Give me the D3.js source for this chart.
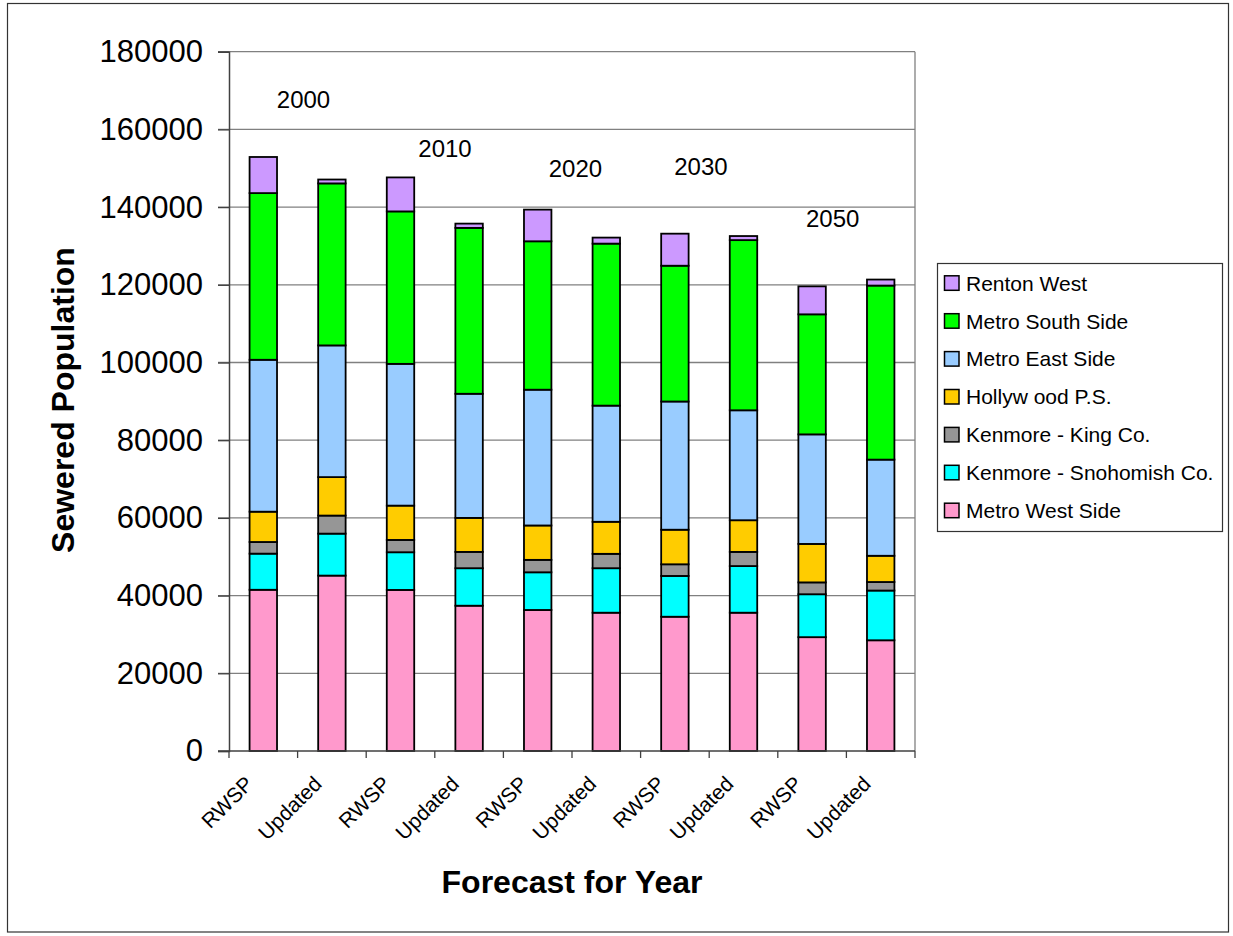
<!DOCTYPE html>
<html>
<head>
<meta charset="utf-8">
<script src="https://cdn.jsdelivr.net/npm/d3@7"></script>
<style>
  html, body { margin: 0; padding: 0; background: #fff; }
  text { font-family: "Liberation Sans", Arial, sans-serif; fill: #000; }
</style>
</head>
<body>
<svg id="chart" width="1233" height="936"></svg>
<script>
// ---------- DATA ----------
const categories = ["RWSP", "Updated", "RWSP", "Updated", "RWSP", "Updated", "RWSP", "Updated", "RWSP", "Updated"];
const yearLabels = ["2000", "2010", "2020", "2030", "2050"];
const seriesNames = ["Metro West Side", "Kenmore - Snohomish Co.", "Kenmore - King Co.", "Hollyw ood P.S.", "Metro East Side", "Metro South Side", "Renton West"];
const metroWest        = [41500, 45150, 41460, 37400, 36300, 35600, 34560, 35600, 29300, 28500];
const kenmoreSnohomish = [9300, 10800, 9700, 9650, 9700, 11450, 10500, 12000, 11050, 12800];
const kenmoreKing      = [3000, 4650, 3170, 4200, 3200, 3700, 3000, 3650, 3050, 2200];
const hollywood        = [7800, 9900, 8830, 8750, 8850, 8250, 8900, 8150, 9900, 6750];
const metroEast        = [39100, 33900, 36490, 31950, 34950, 29900, 33000, 28300, 28200, 24750];
const metroSouth       = [42900, 41700, 39240, 42700, 38200, 41700, 34950, 43800, 30900, 44800];
const rentonWest       = [9300, 1000, 8750, 1100, 8150, 1550, 8250, 1050, 7200, 1550];
const yTicks = [0, 20000, 40000, 60000, 80000, 100000, 120000, 140000, 160000, 180000];

// ---------- STYLE / LAYOUT ----------
const colors = ["#FF99CC", "#00FFFF", "#969696", "#FFCC00", "#99CCFF", "#00FF00", "#CC99FF"];
const seriesValues = [metroWest, kenmoreSnohomish, kenmoreKing, hollywood, metroEast, metroSouth, rentonWest];
const plot = { left: 229, right: 915, top: 51.7, bottom: 751 };
// annotation placement: [category-units from left edge, value]
const yearLabelPlacement = [[1.086, 167600], [3.149, 155000], [5.05, 150000], [6.88, 150300], [8.80, 137100]];

const svg = d3.select("#chart");
svg.append("rect").attr("width", 1233).attr("height", 936).attr("fill", "#fff");
svg.append("rect").attr("x", 7.5).attr("y", 3.5).attr("width", 1221).attr("height", 928.5)
  .attr("fill", "none").attr("stroke", "#333").attr("stroke-width", 1.2);

const rows = categories.map((c, i) => {
  const r = { idx: i };
  seriesNames.forEach((s, k) => r[s] = seriesValues[k][i]);
  return r;
});

const x = d3.scaleBand().domain(d3.range(categories.length))
  .range([plot.left, plot.right]).paddingInner(0.6).paddingOuter(0.3);
const y = d3.scaleLinear().domain([0, 180000]).range([plot.bottom, plot.top]);
const step = (plot.right - plot.left) / categories.length;

// gridlines
svg.append("g").selectAll("line").data(yTicks.filter(t => t > 0)).join("line")
  .attr("x1", plot.left - 11).attr("x2", plot.right)
  .attr("y1", d => y(d)).attr("y2", d => y(d))
  .attr("stroke", "#808080").attr("stroke-width", 1.3);

// right plot border
svg.append("line").attr("x1", plot.right).attr("x2", plot.right)
  .attr("y1", plot.top).attr("y2", plot.bottom).attr("stroke", "#808080").attr("stroke-width", 1.3);

// y axis
const yAxis = svg.append("g").attr("transform", `translate(${plot.left},0)`)
  .call(d3.axisLeft(y).tickValues(yTicks).tickFormat(d3.format("d")).tickSize(11).tickPadding(15));
yAxis.select(".domain").attr("stroke", "#404040").attr("stroke-width", 1.5);
yAxis.selectAll(".tick line").attr("stroke", "#404040").attr("stroke-width", 1.3);
yAxis.selectAll(".tick text").attr("font-size", 31).attr("font-family", '"Liberation Sans", Arial, sans-serif').attr("fill", "#000");

// bars
const stack = d3.stack().keys(seriesNames);
const stacked = stack(rows);
svg.append("g").selectAll("g").data(stacked).join("g")
  .attr("fill", (d, i) => colors[i])
  .selectAll("rect").data(d => d).join("rect")
  .attr("x", d => x(d.data.idx))
  .attr("width", x.bandwidth())
  .attr("y", d => y(d[1]))
  .attr("height", d => y(d[0]) - y(d[1]))
  .attr("stroke", "#000").attr("stroke-width", 1.8);

// x axis
svg.append("line").attr("x1", plot.left - 11).attr("x2", plot.right)
  .attr("y1", plot.bottom).attr("y2", plot.bottom).attr("stroke", "#404040").attr("stroke-width", 1.5);
svg.append("g").selectAll("line").data(d3.range(categories.length + 1)).join("line")
  .attr("x1", d => plot.left + d * step).attr("x2", d => plot.left + d * step)
  .attr("y1", plot.bottom).attr("y2", plot.bottom + 7)
  .attr("stroke", "#404040").attr("stroke-width", 1.3);

svg.append("g").selectAll("text").data(categories).join("text")
  .attr("transform", (d, i) => `translate(${x(i) + x.bandwidth() / 2 - 14},${plot.bottom + 29}) rotate(-45)`)
  .attr("text-anchor", "end").attr("dy", "0.35em")
  .attr("font-size", 21).text(d => d);

// year annotations
svg.append("g").selectAll("text").data(yearLabels).join("text")
  .attr("x", (d, i) => plot.left + yearLabelPlacement[i][0] * step)
  .attr("y", (d, i) => y(yearLabelPlacement[i][1]))
  .attr("dy", "0.35em").attr("text-anchor", "middle")
  .attr("font-size", 24).text(d => d);

// axis titles
svg.append("text").attr("transform", "translate(63,400) rotate(-90)")
  .attr("text-anchor", "middle").attr("dy", "0.35em")
  .attr("font-size", 32).attr("font-weight", "bold").text("Sewered Population");
svg.append("text").attr("x", 572).attr("y", 882).attr("dy", "0.35em")
  .attr("text-anchor", "middle").attr("font-size", 32).attr("font-weight", "bold").text("Forecast for Year");

// legend
const legend = svg.append("g");
legend.append("rect").attr("x", 937.5).attr("y", 263.5).attr("width", 285).attr("height", 268)
  .attr("fill", "#fff").attr("stroke", "#333").attr("stroke-width", 1.2);
const legendOrder = d3.range(seriesNames.length).reverse();
const li = legend.selectAll("g.item").data(legendOrder).join("g").attr("class", "item")
  .attr("transform", (d, j) => `translate(944,${283.3 + j * 37.9})`);
li.append("rect").attr("x", 0.5).attr("y", -7.5).attr("width", 14.5).attr("height", 14.5)
  .attr("fill", d => colors[d]).attr("stroke", "#000").attr("stroke-width", 1.5);
li.append("text").attr("x", 22).attr("dy", "0.35em").attr("font-size", 21).text(d => seriesNames[d]);
</script>
</body>
</html>
